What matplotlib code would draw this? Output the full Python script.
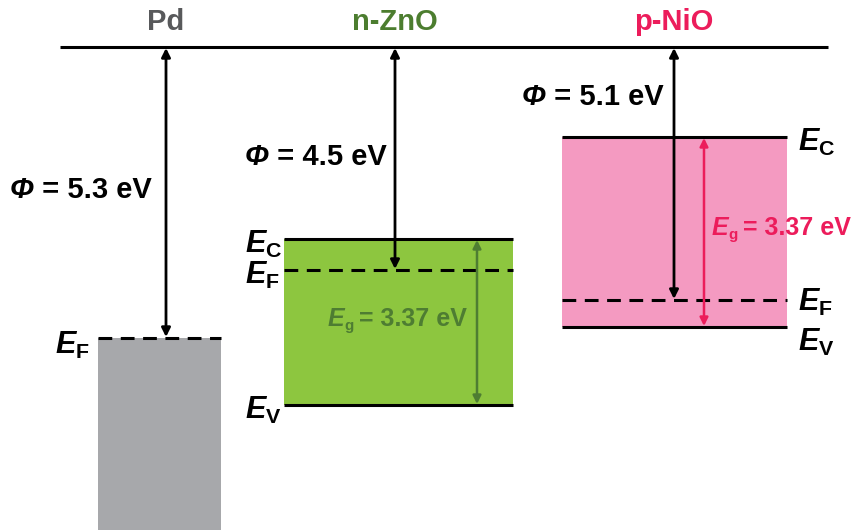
import matplotlib
matplotlib.use("Agg")
import matplotlib.pyplot as plt
from matplotlib.patches import Rectangle

plt.rcParams['font.family'] = ['Liberation Sans', 'DejaVu Sans']
plt.rcParams['font.weight'] = 'bold'
plt.rcParams['mathtext.fontset'] = 'custom'
plt.rcParams['mathtext.it'] = 'Liberation Sans:italic:bold'
plt.rcParams['mathtext.rm'] = 'Liberation Sans:bold'
plt.rcParams['mathtext.bf'] = 'Liberation Sans:bold'

# ---- data (diagram units: depth below vacuum level, as drawn) ----
materials = ['Pd', 'n-ZnO', 'p-NiO']
work_function = [5.3, 4.5, 5.1]          # eV
band_gap = [None, 3.37, 3.37]            # eV
ef_level = [338, 270, 300]               # drawn Fermi level depth
ec_level = [None, 239, 137]              # drawn conduction band edge
ev_level = [None, 405, 327]              # drawn valence band edge
vacuum_level = 47

# ---- styles / layout ----
box_x = [(98, 221), (284, 513), (562, 787)]
arrow_x = [166, 395, 674]
gap_x = [None, 477, 704]
fill_colors = ['#a7a8ab', '#8dc63f', '#f49ac1']
title_colors = ['#58595b', '#4c7d2f', '#ec1c5b']
gap_colors = [None, '#4e7d32', '#ec1c5b']

fig = plt.figure(figsize=(8.51, 5.30), dpi=100)
ax = fig.add_axes([0, 0, 1, 1])
ax.set_xlim(0, 851)
ax.set_ylim(530, 0)
ax.axis('off')

FS = 21

ax.plot([60, 828], [vacuum_level, vacuum_level], color='black', lw=2.2, solid_capstyle='butt')

for i, name in enumerate(materials):
    x0, x1 = box_x[i]
    ax.text(arrow_x[i], 22, name, color=title_colors[i], fontsize=FS, fontweight='bold',
            ha='center', va='center')
    if ec_level[i] is None:
        ax.add_patch(Rectangle((x0, ef_level[i]), x1 - x0, 530 - ef_level[i],
                               facecolor=fill_colors[i], edgecolor='none', zorder=1))
    else:
        ax.add_patch(Rectangle((x0, ec_level[i]), x1 - x0, ev_level[i] - ec_level[i],
                               facecolor=fill_colors[i], edgecolor='none', zorder=1))
        ax.plot([x0, x1], [ec_level[i]] * 2, color='black', lw=2.2, zorder=3,
                solid_capstyle='butt')
        ax.plot([x0, x1], [ev_level[i]] * 2, color='black', lw=2.2, zorder=3,
                solid_capstyle='butt')
        ax.annotate('', xy=(gap_x[i], ec_level[i] + 1), xytext=(gap_x[i], ev_level[i] - 1),
                    arrowprops=dict(arrowstyle='<|-|>', color=gap_colors[i], lw=1.8,
                                    mutation_scale=12, shrinkA=0, shrinkB=0), zorder=4)
    ax.plot([x0, x1], [ef_level[i]] * 2, color='black', lw=2.2, zorder=3,
            dashes=(4.5, 2.8), dash_capstyle='butt')
    ax.annotate('', xy=(arrow_x[i], vacuum_level + 1), xytext=(arrow_x[i], ef_level[i] - 1),
                arrowprops=dict(arrowstyle='<|-|>', color='black', lw=2.0,
                                mutation_scale=13, shrinkA=0, shrinkB=0), zorder=5)

wf_pos = [(10, 190), (245, 157), (522, 97)]
for i in range(3):
    t = ax.text(wf_pos[i][0], wf_pos[i][1], 'Φ', fontsize=FS, fontweight='bold',
                fontstyle='italic', ha='left', va='center', color='black')
    ax.annotate(f' = {work_function[i]} eV', xy=(1.0, 0.5), xycoords=t,
                fontsize=FS, fontweight='bold', ha='left', va='center', color='black')

gap_pos = [None, (328, 326), (712, 235)]   # baseline positions
GFS = 18
for i in (1, 2):
    gx, gy = gap_pos[i]
    ax.text(gx, gy, 'E', fontsize=GFS, fontweight='bold', fontstyle='italic',
            ha='left', va='baseline', color=gap_colors[i])
    ax.text(gx + 16.5, gy + 4, 'g', fontsize=11, fontweight='bold',
            ha='left', va='baseline', color=gap_colors[i])
    ax.text(gx + 31, gy, f'= {band_gap[i]} eV', fontsize=GFS,
            fontweight='bold', ha='left', va='baseline', color=gap_colors[i])

def lvl(x, y, sub):
    ax.text(x, y, r'$\mathit{E}_\mathrm{' + sub + '}$', fontsize=FS + 1, ha='left',
            va='center', color='black')

lvl(55, 345, 'F')
lvl(245, 244, 'C')
lvl(245, 275, 'F')
lvl(245, 410, 'V')
lvl(798, 142, 'C')
lvl(798, 302, 'F')
lvl(798, 342, 'V')

fig.savefig('out.png', dpi=100)
